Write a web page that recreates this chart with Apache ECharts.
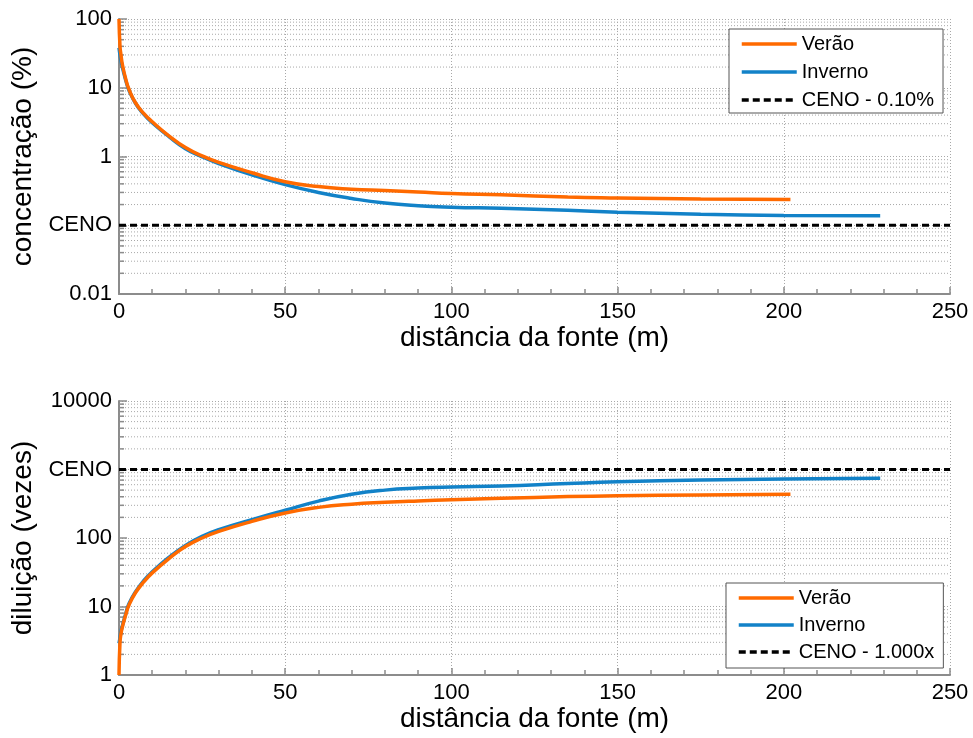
<!DOCTYPE html>
<html>
<head>
<meta charset="utf-8">
<script src="https://cdn.jsdelivr.net/npm/echarts@6/dist/echarts.min.js"></script>
<style>
html,body{margin:0;padding:0;background:#fff;}
#chart{width:973px;height:738px;}
</style>
</head>
<body>
<div id="chart"></div>
<script>
// ---- data ----
const xVerao = [0, 0.3, 0.6, 1, 2, 3, 5, 7.5, 10, 15, 20, 25, 30, 40, 50, 60, 70, 80, 90, 100, 115, 135, 150, 175, 202];
const concVerao = [100, 40, 30, 22, 13.5, 9.5, 6, 4.2, 3.2, 2.0, 1.35, 1.02, 0.82, 0.58, 0.43, 0.365, 0.335, 0.32, 0.305, 0.29, 0.277, 0.258, 0.25, 0.24, 0.236];
const diluVerao = [1, 3, 4, 5, 7.5, 10.5, 16, 23, 31, 50, 75, 100, 125, 175, 232, 280, 312, 332, 348, 362, 380, 402, 413, 426, 435];

const xInverno = [0, 0.3, 0.6, 1, 2, 3, 5, 7.5, 10, 15, 20, 25, 30, 40, 50, 60, 70, 80, 90, 100, 115, 135, 150, 175, 200, 229];
const concInverno = [38, 30, 25, 20, 13, 9.2, 5.9, 4.1, 3.1, 1.95, 1.3, 0.99, 0.79, 0.54, 0.39, 0.30, 0.245, 0.21, 0.192, 0.183, 0.176, 0.165, 0.155, 0.145, 0.139, 0.137];
const diluInverno = [2.9, 3.5, 4.3, 5.2, 7.8, 11, 16.5, 24, 32, 52, 78, 106, 132, 185, 254, 345, 435, 500, 535, 555, 575, 625, 660, 700, 728, 745];

const cenoX = [0, 250];
const cenoConc = 0.1;     // %
const cenoDilu = 1000;    // vezes

const seriesNames = ['Verão', 'Inverno'];
const cenoNameTop = 'CENO - 0.10%';
const cenoNameBottom = 'CENO - 1.000x';
const xTitle = 'distância da fonte (m)';
const yTitleTop = 'concentração (%)';
const yTitleBottom = 'diluição (vezes)';
const decadesTop = [0.01, 0.1, 1, 10];
const decadesBottom = [1, 10, 100, 1000];
const minorMult = [2, 3, 4, 5, 6, 7, 8, 9];

// ---- helpers ----
const zip = (xs, ys) => xs.map((x, i) => [x, ys[i]]);
const minorVals = (decs) => { const o = []; decs.forEach(d => minorMult.forEach(m => o.push([0, d * m]))); return o; };

const FONT = 'Liberation Sans, Arial, sans-serif';
const ORANGE = '#ff6a00';
const BLUE = '#1282c8';
const GRIDC = '#a8a8a8';
const AXISC = '#8c8c8c';

function xAxisCfg(gi) {
  return {
    type: 'value', gridIndex: gi, min: 0, max: 250, interval: 50,
    name: xTitle, nameLocation: 'middle', nameGap: 29,
    nameTextStyle: { fontSize: 28, color: '#000', fontFamily: FONT },
    axisLine: { lineStyle: { color: AXISC, width: 2 } },
    axisTick: { inside: true, length: 7, lineStyle: { color: AXISC, width: 1.5 } },
    minorTick: { show: true, splitNumber: 5, length: 5, lineStyle: { color: AXISC, width: 1.5 } },
    axisLabel: { fontSize: 22, color: '#000', fontFamily: FONT, margin: 7 },
    splitLine: { show: true, lineStyle: { color: GRIDC, width: 1, type: [1, 2] } }
  };
}
function yAxisCfg(gi, mn, mx, cenoVal, title) {
  return {
    type: 'log', logBase: 10, gridIndex: gi, min: mn, max: mx,
    name: title, nameLocation: 'middle', nameGap: 76,
    nameTextStyle: { fontSize: 28, color: '#000', fontFamily: FONT },
    axisLine: { show: true, lineStyle: { color: AXISC, width: 2 } },
    axisTick: { show: true, inside: true, length: 8, lineStyle: { color: AXISC, width: 1.5 } },
    axisLabel: {
      fontSize: 22, color: '#000', fontFamily: FONT, margin: 7,
      formatter: v => Math.abs(Math.log10(v) - Math.log10(cenoVal)) < 1e-6 ? 'CENO' : String(+v.toPrecision(6))
    },
    splitLine: { show: true, lineStyle: { color: GRIDC, width: 1, type: [1, 2] } }
  };
}
function minorSeries(gi, decs) {
  return {
    type: 'custom', xAxisIndex: gi, yAxisIndex: gi, silent: true, z: 1,
    data: minorVals(decs),
    renderItem: function (params, api) {
      const v = api.value(1);
      const a = api.coord([0, v]);
      const b = api.coord([250, v]);
      return {
        type: 'group', children: [
          { type: 'line', shape: { x1: a[0], y1: a[1], x2: b[0], y2: b[1] }, style: { stroke: GRIDC, lineWidth: 1, lineDash: [1, 2] } },
          { type: 'line', shape: { x1: a[0], y1: a[1], x2: a[0] + 5, y2: a[1] }, style: { stroke: AXISC, lineWidth: 1.5 } }
        ]
      };
    }
  };
}
function lineSeries(name, gi, data, color, z) {
  return {
    name: name, type: 'line', xAxisIndex: gi, yAxisIndex: gi, data: data,
    showSymbol: false, symbol: 'none', smooth: 0.5, z: z,
    lineStyle: { color: color, width: 3.5 }, itemStyle: { color: color }
  };
}
function cenoSeries(name, gi, val) {
  return {
    name: name, type: 'line', xAxisIndex: gi, yAxisIndex: gi,
    data: cenoX.map(x => [x, val]), showSymbol: false, symbol: 'none', z: 4,
    lineStyle: { color: '#000', width: 3, type: [7, 4] }, itemStyle: { color: '#000' }
  };
}
function legendCfg(names, left, top, pad, gap) {
  return {
    data: names, orient: 'vertical', left: left, top: top,
    padding: pad, itemWidth: 55, itemHeight: 16, itemGap: gap,
    backgroundColor: '#fff', borderColor: '#555', borderWidth: 1, borderRadius: 0,
    itemStyle: { opacity: 0 },
    lineStyle: { width: 3.5 },
    textStyle: { fontSize: 20, color: '#000', fontFamily: FONT },
    selectedMode: false
  };
}

const chart = echarts.init(document.getElementById('chart'), null, { renderer: 'canvas' });
chart.setOption({
  animation: false,
  backgroundColor: '#fff',
  textStyle: { fontFamily: FONT },
  grid: [
    { left: 119, right: 23, top: 19, height: 275 },
    { left: 119, right: 23, top: 401, height: 274 }
  ],
  legend: [
    legendCfg([seriesNames[0], seriesNames[1], cenoNameTop], 729, 29, [5, 9, 3, 11], 8),
    legendCfg([seriesNames[0], seriesNames[1], cenoNameBottom], 726, 583, [5, 9, 6, 11], 7)
  ],
  xAxis: [xAxisCfg(0), xAxisCfg(1)],
  yAxis: [
    yAxisCfg(0, 0.01, 100, cenoConc, yTitleTop),
    yAxisCfg(1, 1, 10000, cenoDilu, yTitleBottom)
  ],
  series: [
    minorSeries(0, decadesTop),
    minorSeries(1, decadesBottom),
    cenoSeries(cenoNameTop, 0, cenoConc),
    lineSeries(seriesNames[1], 0, zip(xInverno, concInverno), BLUE, 3),
    lineSeries(seriesNames[0], 0, zip(xVerao, concVerao), ORANGE, 3),
    cenoSeries(cenoNameBottom, 1, cenoDilu),
    lineSeries(seriesNames[1], 1, zip(xInverno, diluInverno), BLUE, 3),
    lineSeries(seriesNames[0], 1, zip(xVerao, diluVerao), ORANGE, 3)
  ]
});
</script>
</body>
</html>
